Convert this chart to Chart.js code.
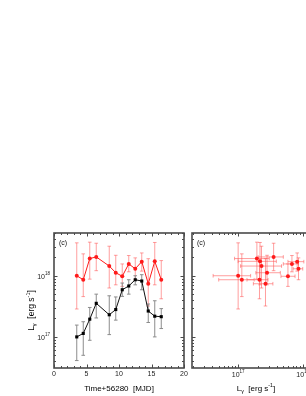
<!DOCTYPE html>
<html>
<head>
<meta charset="utf-8">
<script src="https://cdn.jsdelivr.net/npm/chart.js@4"></script>
<style>
  html, body { margin: 0; padding: 0; background: #fff; }
  #wrap { position: relative; width: 306px; height: 396px; overflow: hidden; }
  canvas { position: absolute; top: 0; }
  #left { left: 0; }
  #right { left: 188px; }
</style>
</head>
<body>
<div id="wrap">
  <canvas id="left" width="188" height="396"></canvas>
  <canvas id="right" width="136" height="396"></canvas>
</div>
<script>
// days after MJD 56280
const days = [3.5, 4.5, 5.5, 6.5, 8.5, 9.5, 10.5, 11.5, 12.5, 13.5, 14.5, 15.5, 16.5];

// red series (circles)
const redLum  = [1.0e18, 8.6e17, 1.91e18, 2.03e18, 1.44e18, 1.12e18, 9.8e17, 1.56e18, 1.3e18, 1.7e18, 7.4e17, 1.72e18, 8.6e17];
const redHigh = [3.45e18, 2.28e18, 3.54e18, 3.4e18, 3.04e18, 2.16e18, 1.56e18, 2.14e18, 1.96e18, 2.36e18, 1.9e18, 3.5e18, 1.77e18];
const redLow  = [2.86e17, 4.56e17, 8.8e17, 1.21e18, 6.3e17, 7.1e17, 6.7e17, 1.16e18, 8.6e17, 1.19e18, 3.2e17, 7.1e17, 4.2e17];

// black series (squares)
const blackLum  = [1.0e17, 1.14e17, 1.95e17, 3.54e17, 2.3e17, 2.8e17, 5.9e17, 6.8e17, 8.6e17, 8.2e17, 2.65e17, 2.18e17, 2.14e17];
const blackHigh = [1.56e17, 1.77e17, 3.03e17, 5.0e17, 4.7e17, 4.5e17, 7.6e17, 8.6e17, 1.0e18, 1.04e18, 3.45e17, 3.9e17, 2.9e17];
const blackLow  = [4.1e16, 5.0e16, 8.8e16, 2.04e17, 1.09e17, 1.88e17, 4.6e17, 5.0e17, 7.1e17, 5.9e17, 1.72e17, 1.0e17, 1.37e17];

const dayLabels = [0, 5, 10, 15, 20];
const panelLabel = '(c)';
const timeTitle = 'Time+56280  [MJD]';

const FONT = '"Liberation Sans", Arial, sans-serif';
const RED = '#ff1a1a';
const RED_ERR = 'rgba(255,80,80,0.55)';
const GREY_ERR = '#8c8c8c';
const FRAME = '#4a4a4a';

/* ===== helpers ===== */

function logTicks(scale) {
  const out = [];
  const e0 = Math.floor(Math.log10(scale.min)), e1 = Math.ceil(Math.log10(scale.max));
  for (let e = e0; e <= e1; e++) {
    for (let m = 1; m <= 9; m++) {
      const v = m * Math.pow(10, e);
      if (v >= scale.min && v <= scale.max) out.push({ v: v, major: m === 1, exp: e });
    }
  }
  return out;
}

function linTicks(scale) {
  return scale.ticks.map(t => ({ v: t.value, major: dayLabels.includes(t.value) }));
}

function ticksOf(scale) {
  return scale.type === 'logarithmic' ? logTicks(scale) : linTicks(scale);
}

// "10" with a raised exponent
function drawPow(ctx, exp, x, y, align) {
  ctx.font = '7px ' + FONT;
  const w1 = ctx.measureText('10').width;
  ctx.font = '4.5px ' + FONT;
  const w2 = ctx.measureText(String(exp)).width;
  const total = w1 + w2;
  let x0 = align === 'right' ? x - total : x - total / 2;
  ctx.textAlign = 'left';
  ctx.textBaseline = 'middle';
  ctx.font = '7px ' + FONT;
  ctx.fillText('10', x0, y);
  ctx.font = '4.5px ' + FONT;
  ctx.fillText(String(exp), x0 + w1, y - 3);
}

// L_gamma [erg s^-1]
function drawLumTitle(ctx, x, y, size, vertical) {
  const parts = [
    { t: 'L', s: 1, dy: 0 },
    { t: 'γ', s: 0.65, dy: 0.3 },
    { t: '  [erg s', s: 1, dy: 0 },
    { t: '-1', s: 0.65, dy: -0.42 },
    { t: ']', s: 1, dy: 0 }
  ];
  ctx.save();
  ctx.translate(x, y);
  if (vertical) ctx.rotate(-Math.PI / 2);
  ctx.fillStyle = '#000';
  ctx.textBaseline = 'middle';
  ctx.textAlign = 'left';
  let total = 0;
  parts.forEach(p => { ctx.font = (size * p.s) + 'px ' + FONT; p.w = ctx.measureText(p.t).width; total += p.w; });
  let cx = -total / 2;
  parts.forEach(p => {
    ctx.font = (size * p.s) + 'px ' + FONT;
    ctx.fillText(p.t, cx, p.dy * size);
    cx += p.w;
  });
  ctx.restore();
}

/* ===== plugins ===== */

const errorBars = {
  id: 'errorBars',
  beforeDatasetsDraw(chart) {
    const ctx = chart.ctx, xs = chart.scales.x, ys = chart.scales.y, a = chart.chartArea;
    ctx.save();
    ctx.beginPath();
    ctx.rect(a.left, a.top, a.right - a.left, a.bottom - a.top);
    ctx.clip();
    ctx.lineWidth = 1;
    chart.data.datasets.forEach(ds => {
      const eb = ds.errorBars;
      if (!eb) return;
      ctx.strokeStyle = eb.color;
      ds.data.forEach((p, i) => {
        const px = xs.getPixelForValue(p.x), py = ys.getPixelForValue(p.y);
        const cap = 1.8;
        ctx.beginPath();
        if (eb.yLow) {
          const t = ys.getPixelForValue(eb.yHigh[i]), b = ys.getPixelForValue(eb.yLow[i]);
          ctx.moveTo(px, t); ctx.lineTo(px, b);
          ctx.moveTo(px - cap, t); ctx.lineTo(px + cap, t);
          ctx.moveTo(px - cap, b); ctx.lineTo(px + cap, b);
        }
        if (eb.xLow) {
          const l = xs.getPixelForValue(eb.xLow[i]), r = xs.getPixelForValue(eb.xHigh[i]);
          ctx.moveTo(l, py); ctx.lineTo(r, py);
          ctx.moveTo(l, py - cap); ctx.lineTo(l, py + cap);
          ctx.moveTo(r, py - cap); ctx.lineTo(r, py + cap);
        }
        ctx.stroke();
      });
    });
    ctx.restore();
  }
};

const frame = {
  id: 'frame',
  afterDraw(chart, args, opts) {
    const ctx = chart.ctx, a = chart.chartArea, xs = chart.scales.x, ys = chart.scales.y;
    ctx.save();
    ctx.strokeStyle = FRAME;
    ctx.lineWidth = 1;
    ctx.beginPath();
    ticksOf(xs).forEach(t => {
      const x = Math.round(xs.getPixelForValue(t.v)) + 0.5, len = t.major ? 3.5 : 2;
      ctx.moveTo(x, a.bottom); ctx.lineTo(x, a.bottom - len);
      ctx.moveTo(x, a.top); ctx.lineTo(x, a.top + len);
    });
    ticksOf(ys).forEach(t => {
      const y = Math.round(ys.getPixelForValue(t.v)) + 0.5, len = t.major ? 3.5 : 2;
      ctx.moveTo(a.left, y); ctx.lineTo(a.left + len, y);
      ctx.moveTo(a.right, y); ctx.lineTo(a.right - len, y);
    });
    ctx.stroke();
    ctx.lineWidth = 1.6;
    ctx.strokeRect(a.left, a.top, a.right - a.left, a.bottom - a.top);

    ctx.fillStyle = '#222';
    // x tick labels
    if (xs.type === 'logarithmic') {
      logTicks(xs).filter(t => t.major).forEach(t => drawPow(ctx, t.exp, xs.getPixelForValue(t.v), a.bottom + 7, 'center'));
    } else {
      ctx.font = '7px ' + FONT;
      ctx.textAlign = 'center';
      ctx.textBaseline = 'middle';
      dayLabels.forEach(v => ctx.fillText(String(v), xs.getPixelForValue(v), a.bottom + 6.5));
    }
    // y tick labels
    if (opts.yLabels) {
      logTicks(ys).filter(t => t.major).forEach(t => drawPow(ctx, t.exp, a.left - 4, ys.getPixelForValue(t.v) + 1, 'right'));
    }
    // panel tag
    ctx.fillStyle = '#111';
    ctx.font = '7px ' + FONT;
    ctx.textAlign = 'left';
    ctx.textBaseline = 'middle';
    ctx.fillText(panelLabel, a.left + 5, a.top + 10);
    // axis titles
    const midX = (a.left + a.right) / 2;
    if (opts.xTitle === 'time') {
      ctx.fillStyle = '#000';
      ctx.font = '8px ' + FONT;
      ctx.textAlign = 'center';
      ctx.fillText(timeTitle, midX, a.bottom + 21);
    } else {
      drawLumTitle(ctx, midX, a.bottom + 21, 8, false);
    }
    if (opts.yTitle) drawLumTitle(ctx, 32, (a.top + a.bottom) / 2 + 10, 8.5, true);
    ctx.restore();
  }
};

/* ===== charts ===== */

const noAxis = { display: true, grid: { display: false }, border: { display: false } };

new Chart(document.getElementById('left'), {
  type: 'line',
  data: {
    datasets: [{
      data: days.map((d, i) => ({ x: d, y: redLum[i] })),
      borderColor: RED, backgroundColor: RED, borderWidth: 1,
      pointStyle: 'circle', pointRadius: 2, pointBorderWidth: 0,
      errorBars: { yLow: redLow, yHigh: redHigh, color: RED_ERR }
    }, {
      data: days.map((d, i) => ({ x: d, y: blackLum[i] })),
      borderColor: '#111', backgroundColor: '#000', borderWidth: 1,
      pointStyle: 'rect', pointRadius: 2.2, pointBorderWidth: 0,
      errorBars: { yLow: blackLow, yHigh: blackHigh, color: GREY_ERR }
    }]
  },
  options: {
    responsive: false, animation: false, events: [],
    layout: { padding: { top: 233, right: 2, left: 0, bottom: 0 } },
    plugins: { legend: { display: false }, tooltip: { enabled: false },
      frame: { yLabels: true, xTitle: 'time', yTitle: true } },
    scales: {
      x: Object.assign({}, noAxis, { type: 'linear', min: 0, max: 20,
        ticks: { stepSize: 1, display: false },
        afterFit: s => { s.height = 28; s.paddingLeft = 0; s.paddingRight = 0; } }),
      y: Object.assign({}, noAxis, { type: 'logarithmic', min: 3.1e16, max: 5e18,
        ticks: { display: false },
        afterFit: s => { s.width = 54; s.paddingTop = 0; s.paddingBottom = 0; } })
    }
  },
  plugins: [errorBars, frame]
});

new Chart(document.getElementById('right'), {
  type: 'scatter',
  data: {
    datasets: [{
      data: blackLum.map((v, i) => ({ x: v, y: redLum[i] })),
      borderColor: RED, backgroundColor: RED,
      pointStyle: 'circle', pointRadius: 2, pointBorderWidth: 0,
      errorBars: { xLow: blackLow, xHigh: blackHigh, yLow: redLow, yHigh: redHigh, color: RED_ERR }
    }]
  },
  options: {
    responsive: false, animation: false, events: [],
    layout: { padding: { top: 233, right: 2, left: 0, bottom: 0 } },
    plugins: { legend: { display: false }, tooltip: { enabled: false },
      frame: { yLabels: false, xTitle: 'lum', yTitle: false } },
    scales: {
      x: Object.assign({}, noAxis, { type: 'logarithmic', min: 1.93e16, max: 1.85e18,
        ticks: { display: false },
        afterFit: s => { s.height = 28; s.paddingLeft = 0; s.paddingRight = 0; } }),
      y: Object.assign({}, noAxis, { type: 'logarithmic', min: 3.1e16, max: 5e18,
        ticks: { display: false },
        afterFit: s => { s.width = 2; s.paddingTop = 0; s.paddingBottom = 0; } })
    }
  },
  plugins: [errorBars, frame]
});
</script>
</body>
</html>
